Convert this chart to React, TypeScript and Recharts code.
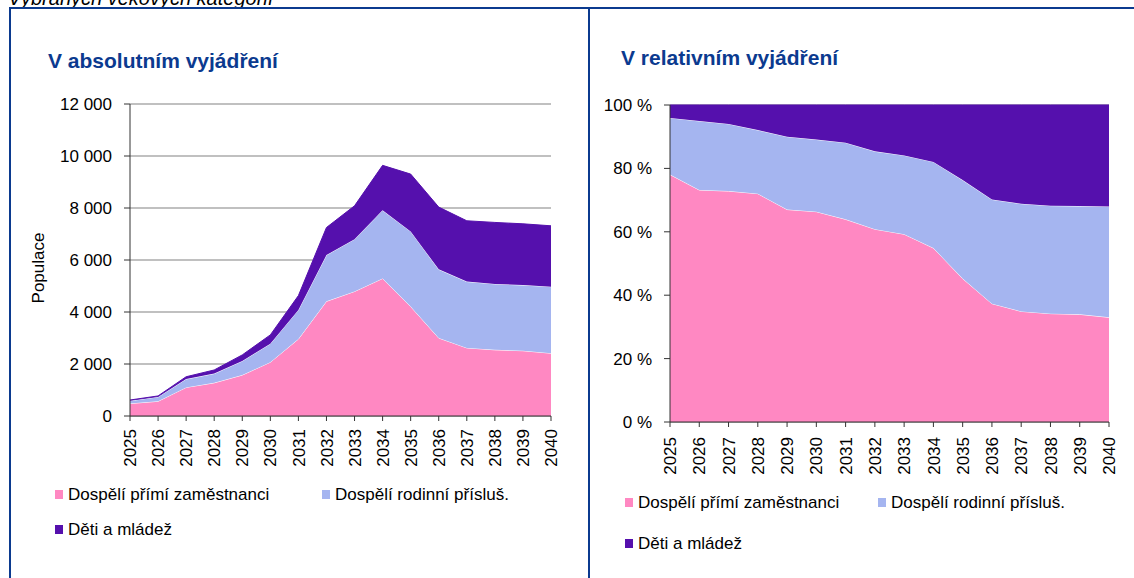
import { Area, AreaChart, CartesianGrid, XAxis, YAxis } from 'recharts';

const years = ['2025', '2026', '2027', '2028', '2029', '2030', '2031', '2032', '2033', '2034', '2035', '2036', '2037', '2038', '2039', '2040'];
const adults = [480, 565, 1100, 1275, 1575, 2070, 2960, 4410, 4790, 5290, 4210, 3000, 2620, 2545, 2510, 2415];
const family = [110, 168, 320, 355, 540, 710, 1120, 1780, 2010, 2620, 2890, 2640, 2550, 2535, 2525, 2560];
const children = [25, 39, 90, 140, 235, 340, 550, 1060, 1285, 1730, 2205, 2395, 2338, 2365, 2357, 2340];

const seriesNames = ['Dospělí přímí zaměstnanci', 'Dospělí rodinní přísluš.', 'Děti a mládež'];
const absTicks = [0, 2000, 4000, 6000, 8000, 10000, 12000];
const relTicks = [0, 0.2, 0.4, 0.6, 0.8, 1];

const PINK = '#FF88C2';
const BLUE = '#A5B5F0';
const PURPLE = '#5510AD';
const NAVY = '#0B3A8F';
const FONT = '"Liberation Sans", Arial, sans-serif';

const data = years.map((year, i) => ({
  year,
  adults: adults[i],
  family: family[i],
  children: children[i],
}));

const fmtThousands = (v: number) => String(v).replace(/\B(?=(\d{3})+(?!\d))/g, ' ');
const fmtPct = (v: number) => `${Math.round(v * 100)} %`;

const YearTick = (props: any) => {
  const { x, y, payload } = props;
  return (
    <g transform={`translate(${x},${y})`}>
      <text transform="rotate(-90)" textAnchor="end" dy="0.36em" fontSize={17} fontFamily={FONT} fill="#000">
        {payload.value}
      </text>
    </g>
  );
};

const yTickStyle = { fontSize: 17, fontFamily: FONT, fill: '#000' };

function Legend({ left, top, gap, second }: { left: number; top: number; gap: number; second: number }) {
  const colors = [PINK, BLUE, PURPLE];
  const pos = [
    { x: left, y: top },
    { x: second, y: top },
    { x: left, y: top + gap },
  ];
  return (
    <>
      {seriesNames.map((name, i) => (
        <div key={name} style={{ position: 'absolute', left: pos[i].x, top: pos[i].y, display: 'flex', alignItems: 'center', fontFamily: FONT, fontSize: 17, lineHeight: '17px', color: '#000', whiteSpace: 'nowrap' }}>
          <span style={{ display: 'inline-block', width: 8, height: 9, background: colors[i], marginRight: 5 }} />
          {name}
        </div>
      ))}
    </>
  );
}

function Areas() {
  return [
    <Area key="a" type="linear" dataKey="adults" name={seriesNames[0]} stackId="s" fill={PINK} fillOpacity={1} stroke="#fff" strokeWidth={1} isAnimationActive={false} />,
    <Area key="f" type="linear" dataKey="family" name={seriesNames[1]} stackId="s" fill={BLUE} fillOpacity={1} stroke="#fff" strokeWidth={1} isAnimationActive={false} />,
    <Area key="c" type="linear" dataKey="children" name={seriesNames[2]} stackId="s" fill={PURPLE} fillOpacity={1} stroke={PURPLE} strokeWidth={1} isAnimationActive={false} />,
  ];
}

export default function App() {
  return (
    <div style={{ position: 'absolute', left: 0, top: 0, width: 1134, height: 578, background: '#fff', overflow: 'hidden' }}>
      {/* caption of the page above, cut by the top edge as in the source */}
      <div style={{ position: 'absolute', left: 8, top: -12, fontFamily: FONT, fontSize: 20, fontStyle: 'italic', lineHeight: '20px', color: '#000', whiteSpace: 'nowrap' }}>
        Vybraných věkových kategorií
      </div>
      <div style={{ position: 'absolute', left: 9, top: 7, width: 1125, height: 2, background: NAVY }} />
      <div style={{ position: 'absolute', left: 9, top: 7, width: 2, height: 571, background: NAVY }} />
      <div style={{ position: 'absolute', left: 588, top: 7, width: 2, height: 571, background: NAVY }} />

      <div style={{ position: 'absolute', left: 48, top: 50, fontFamily: FONT, fontSize: 21, fontWeight: 'bold', lineHeight: '21px', color: NAVY }}>
        V absolutním vyjádření
      </div>
      <div style={{ position: 'absolute', left: 621, top: 47, fontFamily: FONT, fontSize: 21, fontWeight: 'bold', lineHeight: '21px', color: NAVY }}>
        V relativním vyjádření
      </div>

      <div style={{ position: 'absolute', left: 0, top: 0 }}>
        <AreaChart width={590} height={480} data={data} margin={{ top: 104, right: 39, left: 0, bottom: 0 }}>
          <CartesianGrid vertical={false} stroke="#C0C0C0" strokeWidth={2} />
          <XAxis dataKey="year" height={64} interval={0} tick={<YearTick />} tickSize={5} tickMargin={8} stroke="#333" />
          <YAxis
            width={130}
            domain={[0, 12000]}
            ticks={absTicks}
            tickFormatter={fmtThousands}
            tick={yTickStyle}
            tickSize={6}
            tickMargin={12}
            stroke="#333"
            label={{
              content: () => (
                <text x={38} y={268} transform="rotate(-90 38 268)" textAnchor="middle" dominantBaseline="central" fontSize={17} fontFamily={FONT} fill="#000">
                  Populace
                </text>
              ),
            }}
          />
          {Areas()}
        </AreaChart>
      </div>

      <div style={{ position: 'absolute', left: 590, top: 0 }}>
        <AreaChart width={544} height={490} data={data} stackOffset="expand" margin={{ top: 105, right: 25, left: 0, bottom: 0 }}>
          <CartesianGrid vertical={false} stroke="#C0C0C0" strokeWidth={2} />
          <XAxis dataKey="year" height={68} interval={0} tick={<YearTick />} tickSize={5} tickMargin={10} stroke="#333" />
          <YAxis width={80} domain={[0, 1]} ticks={relTicks} tickFormatter={fmtPct} tick={yTickStyle} tickSize={6} tickMargin={12} stroke="#333" />
          {Areas()}
        </AreaChart>
      </div>

      <Legend left={55} top={486} gap={35} second={322} />
      <Legend left={625} top={494} gap={41} second={878} />
    </div>
  );
}
